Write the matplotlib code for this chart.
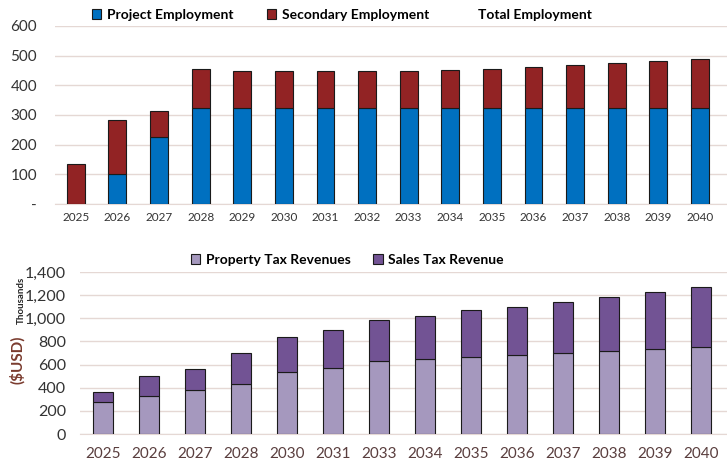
import matplotlib
matplotlib.use("Agg")
from matplotlib import pyplot as plt
from matplotlib.patches import Patch
from matplotlib.lines import Line2D
import numpy as np

plt.rcParams['font.family'] = ['Lato', 'DejaVu Sans']

# employment chart data
emp_years = ['2025', '2026', '2027', '2028', '2029', '2030', '2031', '2032',
             '2033', '2034', '2035', '2036', '2037', '2038', '2039', '2040']
project_emp = [0, 100, 225, 324, 324, 324, 324, 324, 324, 324, 324, 324, 324, 324, 324, 324]
total_emp = [134, 282, 315, 455, 448, 448, 448, 448, 448, 452, 455, 463, 469, 475, 481, 488]
secondary_emp = [t - p for t, p in zip(total_emp, project_emp)]
emp_ticks = [0, 100, 200, 300, 400, 500, 600]
emp_ticklabels = ['-', '100', '200', '300', '400', '500', '600']

# tax revenue chart data (thousands USD)
tax_years = ['2025', '2026', '2027', '2028', '2030', '2031', '2033',
             '2034', '2035', '2036', '2037', '2038', '2039', '2040']
property_tax = [274, 326, 378, 429, 539, 573, 628, 646, 663, 680, 697, 715, 732, 749]
total_tax = [360, 499, 565, 703, 841, 899, 983, 1023, 1069, 1101, 1144, 1184, 1225, 1268]
sales_tax = [t - p for t, p in zip(total_tax, property_tax)]
tax_ticks = [0, 200, 400, 600, 800, 1000, 1200, 1400]

W, H = 727, 465
fig = plt.figure(figsize=(W / 100, H / 100), dpi=100)

grid_c = '#E5D8D4'

# ---- top chart
ax1 = fig.add_axes([55 / W, 1 - 204 / H, 1 - 55 / W, (204 - 26) / H])
x1 = np.arange(len(emp_years))
ax1.bar(x1, project_emp, 0.43, color='#0070C0', edgecolor='#1a1a1a', linewidth=0.8, zorder=3)
ax1.bar(x1, secondary_emp, 0.43, bottom=project_emp, color='#922324', edgecolor='#1a1a1a',
        linewidth=0.8, zorder=3)
ax1.set_xlim(-0.5, len(emp_years) - 0.5 + 0.15)
ax1.set_ylim(0, 600)
ax1.set_yticks(emp_ticks)
ax1.set_yticklabels(emp_ticklabels, fontsize=11, color='#333333')
ax1.set_xticks(x1)
ax1.set_xticklabels(emp_years, fontsize=8.5, color='#333333')
ax1.yaxis.grid(True, color=grid_c, linewidth=1, zorder=0)
for s in ax1.spines.values():
    s.set_visible(False)
ax1.spines['bottom'].set_visible(True)
ax1.spines['bottom'].set_color(grid_c)
ax1.tick_params(length=0, axis='both')
ax1.tick_params(axis='y', pad=13)
ax1.tick_params(axis='x', pad=6)

handles1 = [Patch(facecolor='#0070C0', edgecolor='#1a1a1a', linewidth=0.8),
            Patch(facecolor='#922324', edgecolor='#1a1a1a', linewidth=0.8),
            Line2D([], [], color='none')]
fig.legend(handles1, ['Project Employment', 'Secondary Employment', 'Total Employment'],
           loc='center left', bbox_to_anchor=(86 / W, 1 - 15 / H), ncol=3, frameon=False,
           prop={'weight': 'bold', 'size': 10}, handlelength=0.7, handleheight=0.7,
           handletextpad=0.4, columnspacing=2.4, borderaxespad=0)

# ---- bottom chart
ax2 = fig.add_axes([80 / W, 1 - 434 / H, 1 - 80 / W, (434 - 272) / H])
x2 = np.arange(len(tax_years))
ax2.bar(x2, property_tax, 0.43, color='#A598BE', edgecolor='#1a1a1a', linewidth=0.8, zorder=3)
ax2.bar(x2, sales_tax, 0.43, bottom=property_tax, color='#725394', edgecolor='#1a1a1a',
        linewidth=0.8, zorder=3)
ax2.set_xlim(-0.5, len(tax_years) - 0.5 + 0.07)
ax2.set_ylim(0, 1400)
ax2.set_yticks(tax_ticks)
ax2.set_yticklabels([f'{v:,}' for v in tax_ticks], fontsize=11.5, color='#333333')
ax2.set_xticks(x2)
ax2.set_xticklabels(tax_years, fontsize=11, color='#5a3e3e')
ax2.yaxis.grid(True, color=grid_c, linewidth=1, zorder=0)
for s in ax2.spines.values():
    s.set_visible(False)
ax2.spines['bottom'].set_visible(True)
ax2.spines['bottom'].set_color(grid_c)
ax2.tick_params(length=0, axis='both')
ax2.tick_params(axis='y', pad=10)
ax2.tick_params(axis='x', pad=9)

handles2 = [Patch(facecolor='#A598BE', edgecolor='#1a1a1a', linewidth=0.8),
            Patch(facecolor='#725394', edgecolor='#1a1a1a', linewidth=0.8)]
fig.legend(handles2, ['Property Tax Revenues', 'Sales Tax Revenue'],
           loc='center left', bbox_to_anchor=(185 / W, 1 - 260 / H), ncol=2, frameon=False,
           prop={'weight': 'bold', 'size': 10}, handlelength=0.7, handleheight=0.7,
           handletextpad=0.4, columnspacing=1.6, borderaxespad=0)

fig.text(17 / W, 1 - 360 / H, '($USD)', rotation=90, ha='center', va='center',
         fontsize=11, fontweight='bold', color='#7A3B2E')
fig.text(21 / W, 1 - 300 / H, 'Thousands', rotation=90, ha='center', va='center',
         fontsize=7, fontweight='bold', color='#222222')

fig.savefig('out.png', dpi=100)
